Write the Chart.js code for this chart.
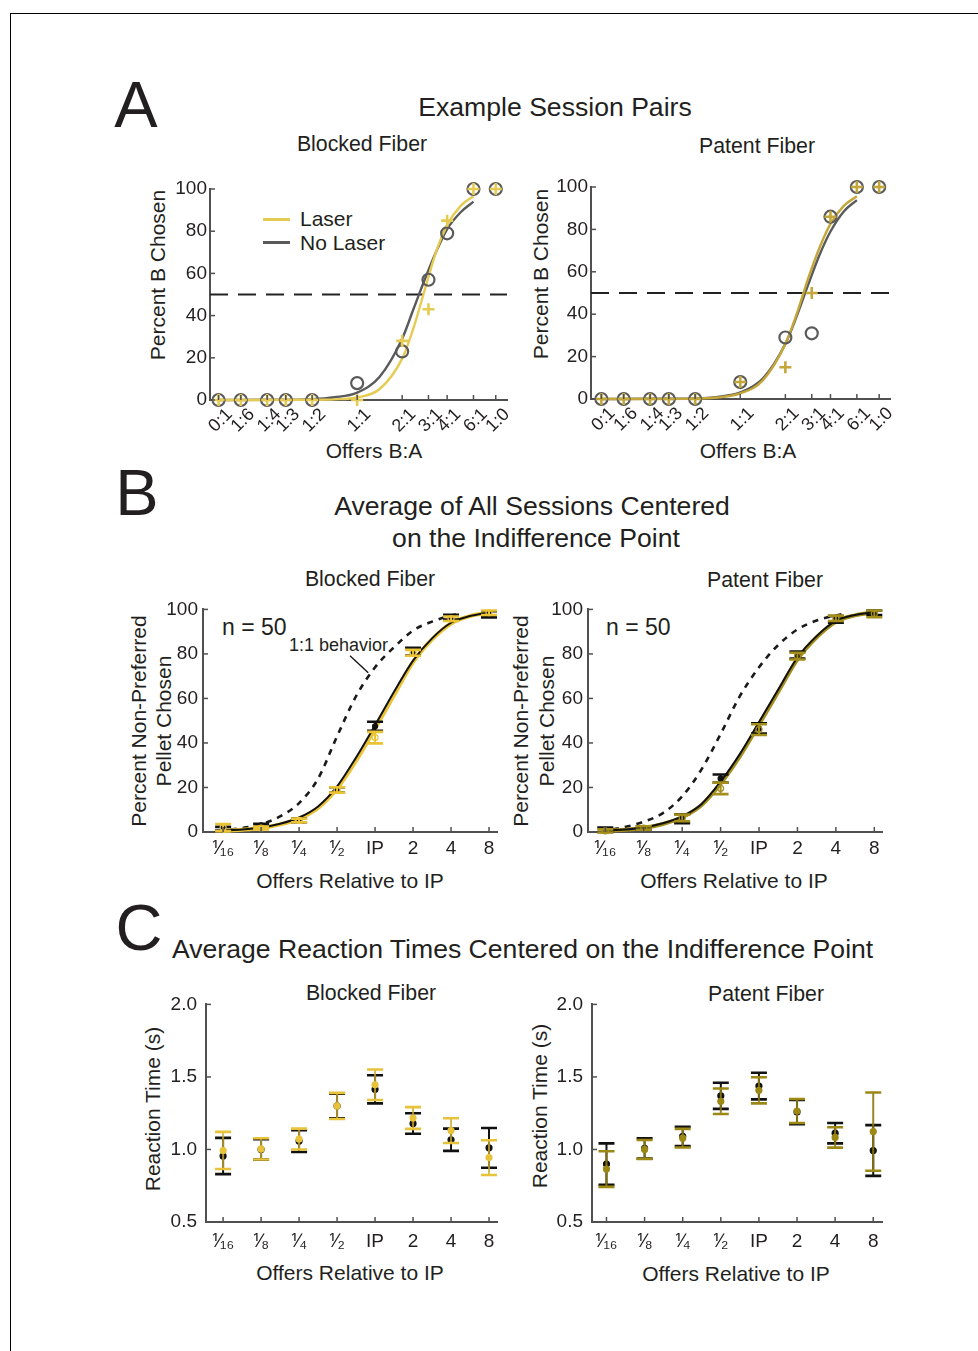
<!DOCTYPE html>
<html><head><meta charset="utf-8">
<script src="https://cdn.jsdelivr.net/npm/chart.js@4.4.1/dist/chart.umd.min.js"></script>
<style>
body{margin:0;background:#fff;width:978px;height:1351px;position:relative;overflow:hidden;font-family:'Liberation Sans',Arial,Helvetica,sans-serif;color:#231f20}
.t{position:absolute;white-space:nowrap;transform:translate(-50%,-50%);line-height:1}
.l{position:absolute;white-space:nowrap;transform:translate(0,-50%);line-height:1}
.v{position:absolute;white-space:nowrap;transform:translate(-50%,-50%) rotate(-90deg);line-height:1}
canvas{position:absolute}
#frame{position:absolute;left:10px;top:13px;width:980px;height:1350px;border-top:1.5px solid #000;border-left:1.5px solid #000}
.leg{position:absolute;height:3px}
</style></head>
<body>
<div id="frame"></div>
<div class="t" style="left:136px;top:104px;font-size:65px">A</div>
<div class="t" style="left:137px;top:492px;font-size:65px">B</div>
<div class="t" style="left:139px;top:927px;font-size:65px">C</div>

<div class="t" style="left:555px;top:107px;font-size:26.6px">Example Session Pairs</div>
<div class="t" style="left:362px;top:145px;font-size:21.3px">Blocked Fiber</div>
<div class="t" style="left:757px;top:147px;font-size:21.3px">Patent Fiber</div>
<div class="v" style="left:157px;top:275px;font-size:21px">Percent B Chosen</div>
<div class="v" style="left:540px;top:274px;font-size:21px">Percent B Chosen</div>
<div class="t" style="left:374px;top:450px;font-size:21px">Offers B:A</div>
<div class="t" style="left:748px;top:450px;font-size:21px">Offers B:A</div>
<div class="leg" style="left:263px;top:218px;width:27px;background:#E6CB52"></div>
<div class="leg" style="left:263px;top:241px;width:27px;background:#5a5a5a"></div>
<div class="l" style="left:300px;top:218px;font-size:21px">Laser</div>
<div class="l" style="left:300px;top:242px;font-size:21px">No Laser</div>

<div class="t" style="left:532px;top:506px;font-size:26.6px">Average of All Sessions Centered</div>
<div class="t" style="left:536px;top:538px;font-size:26.6px">on the Indifference Point</div>
<div class="t" style="left:370px;top:580px;font-size:21.3px">Blocked Fiber</div>
<div class="t" style="left:765px;top:581px;font-size:21.3px">Patent Fiber</div>
<div class="v" style="left:138px;top:721px;font-size:21px">Percent Non-Preferred</div>
<div class="v" style="left:163px;top:721px;font-size:21px">Pellet Chosen</div>
<div class="v" style="left:520px;top:721px;font-size:21px">Percent Non-Preferred</div>
<div class="v" style="left:546px;top:721px;font-size:21px">Pellet Chosen</div>
<div class="l" style="left:222px;top:627px;font-size:23px">n = 50</div>
<div class="l" style="left:606px;top:627px;font-size:23px">n = 50</div>
<div class="l" style="left:289px;top:645px;font-size:18px">1:1 behavior</div>
<div class="t" style="left:350px;top:880px;font-size:21px">Offers Relative to IP</div>
<div class="t" style="left:734px;top:880px;font-size:21px">Offers Relative to IP</div>

<div class="l" style="left:172px;top:949px;font-size:26.6px">Average Reaction Times Centered on the Indifference Point</div>
<div class="t" style="left:371px;top:994px;font-size:21.3px">Blocked Fiber</div>
<div class="t" style="left:766px;top:995px;font-size:21.3px">Patent Fiber</div>
<div class="v" style="left:152px;top:1109px;font-size:21px">Reaction Time (s)</div>
<div class="v" style="left:539px;top:1106px;font-size:21px">Reaction Time (s)</div>
<div class="t" style="left:350px;top:1272px;font-size:21px">Offers Relative to IP</div>
<div class="t" style="left:736px;top:1273px;font-size:21px">Offers Relative to IP</div>

<script>
// ---------------- DATA ----------------
// Panel A: example sessions, offers B:A on log2 axis
const offerLabelsA = ['0:1','1:6','1:4','1:3','1:2','1:1','2:1','3:1','4:1','6:1','1:0'];
const offerPosA    = [-3.08,-2.585,-2,-1.585,-1,0,1,1.585,2,2.585,3.08];
const blockedNoLaserA = [0,0,0,0,0,8,23,57,79,100,100];
const blockedLaserA   = [0,0,0,0,0,0,28,43,85,100,100];
const patentNoLaserA  = [0,0,0,0,0,8,29,31,86,100,100];
const patentLaserA    = [0,0,0,0,0,8,15,50,86,100,100];
const fitPosA = [-3.08,-2,-1,-0.5,0,0.5,1,1.25,1.5,1.75,2,2.3,2.585];
const blockedNoLaserFitA = [0,0.1,0.4,1.3,3.5,11,29,43,57,70,81,89,94];
const blockedLaserFitA   = [0,0,0.1,0.3,1.2,5.2,19.6,34,52,70,83,92,96.6];
const patentNoLaserFitA  = [0,0.1,0.3,1,3.1,9.6,26,39,53.6,67.6,79,88.6,93.8];
const patentLaserFitA    = [0,0,0.2,0.7,2.6,8.8,26,40,56.5,71,82.6,91.2,95.6];
const indifferenceA = [50,50];
const yTicksPct = [0,20,40,60,80,100];

// Panel B: averages centered on indifference point
const relLabels = ['\u215F\u2081\u2086','\u215F\u2088','\u215F\u2084','\u215F\u2082','IP','2','4','8'];
const relPos = [-4,-3,-2,-1,0,1,2,3];
const blockedNoLaserB    = [1.5,3,5.2,18.9,47.5,81,96.5,97.8];
const blockedNoLaserBErr = [0.8,0.7,0.8,1.2,2,1.7,1.1,1.4];
const blockedLaserB      = [2,1.8,5.2,18.9,42.4,80.5,95.8,98.5];
const blockedLaserBErr   = [1.6,0.6,0.8,1.2,2.6,1.3,1,1];
const patentNoLaserB     = [1,1.8,6,24,46.5,79.5,95.5,98.5];
const patentNoLaserBErr  = [1,0.8,2,1.8,2.3,1.6,1.5,1];
const patentLaserB       = [0.5,1.8,6.3,19.6,46,79,96,98];
const patentLaserBErr    = [0.7,0.8,1.5,2.6,2.4,1.5,1.2,1.5];
const fitPosB = [-4,-3.5,-3,-2.5,-2,-1.5,-1,-0.5,0,0.5,1,1.5,2,2.5,3];
const blockedNoLaserFitB = [0.6,1.1,2,3.7,6.5,11.5,20.5,33.5,48,63,77,87,94,97,98.5];
const blockedLaserFitB   = [0.5,1,1.8,3.4,6,10.8,19.5,32,46.5,61.5,76.3,86.5,93.7,97,98.4];
const patentNoLaserFitB  = [0.6,1.1,2,3.9,7,12.5,22.6,35,49.4,64,78.4,88,94.8,97.5,98.7];
const patentLaserFitB    = [0.5,1,1.8,3.6,6.6,12,21.8,34,48.3,63,77.6,87.5,94.5,97.3,98.6];
const fitPos11 = [-3.8,-3.5,-3,-2.5,-2,-1.5,-1,-0.5,0,0.5,1,1.5,2,2.24];
const blockedOneToOne = [1.2,1.8,3.5,7,13,24,43,61,74,83,90.5,94.5,97.3,98];
const patentOneToOne  = [1.2,2.2,4.6,8.5,16,28,44,61,74,84,91,95,97.3,98.2];

// Panel C: reaction times
const yTicksRT = [0.5,1.0,1.5,2.0];
const blockedNoLaserRT    = [0.955,1.0,1.058,1.30,1.415,1.179,1.067,1.011];
const blockedNoLaserRTErr = [0.125,0.07,0.075,0.085,0.097,0.071,0.077,0.137];
const blockedLaserRT      = [0.993,1.004,1.072,1.30,1.446,1.217,1.13,0.944];
const blockedLaserRTErr   = [0.128,0.073,0.072,0.09,0.105,0.075,0.085,0.12];
const patentNoLaserRT     = [0.899,1.007,1.09,1.37,1.437,1.258,1.112,0.993];
const patentNoLaserRTErr  = [0.143,0.07,0.067,0.09,0.092,0.084,0.07,0.175];
const patentLaserRT       = [0.865,1.0,1.078,1.332,1.408,1.265,1.083,1.123];
const patentLaserRTErr    = [0.123,0.065,0.064,0.088,0.09,0.083,0.07,0.27];

// ---------------- STYLE ----------------
const FONT = "'Liberation Sans', Arial, Helvetica, sans-serif";
const TXT = '#231f20', AXIS = '#505050';
const WY = 70, HX = 70, PT = 15, PR = 20;

const pts = (xs, ys) => xs.map((x, i) => ({x, y: ys[i]}));

const inTicks = {
  id: 'inTicks',
  afterDraw(chart) {
    const {ctx, chartArea: a} = chart, sx = chart.scales.x, sy = chart.scales.y;
    ctx.save(); ctx.strokeStyle = AXIS; ctx.lineWidth = 1.5;
    sx.ticks.forEach(t => { const p = sx.getPixelForValue(t.value);
      ctx.beginPath(); ctx.moveTo(p, a.bottom); ctx.lineTo(p, a.bottom - 5); ctx.stroke(); });
    sy.ticks.forEach(t => { const p = sy.getPixelForValue(t.value);
      ctx.beginPath(); ctx.moveTo(a.left, p); ctx.lineTo(a.left + 5, p); ctx.stroke(); });
    ctx.restore();
  }
};
const errBars = {
  id: 'errBars',
  beforeDatasetDraw(chart, args) {
    const ds = chart.data.datasets[args.index];
    if (!ds.errors) return;
    const {ctx} = chart, sx = chart.scales.x, sy = chart.scales.y, cap = 8;
    ctx.save();
    ds.data.forEach((p, i) => {
      const e = ds.errors[i], x = sx.getPixelForValue(p.x);
      const y1 = sy.getPixelForValue(p.y - e), y2 = sy.getPixelForValue(p.y + e);
      ctx.strokeStyle = ds.stemColor; ctx.lineWidth = 2;
      ctx.beginPath(); ctx.moveTo(x, y1); ctx.lineTo(x, y2); ctx.stroke();
      ctx.strokeStyle = ds.capColor; ctx.lineWidth = 2.6;
      ctx.beginPath(); ctx.moveTo(x - cap, y1); ctx.lineTo(x + cap, y1);
      ctx.moveTo(x - cap, y2); ctx.lineTo(x + cap, y2); ctx.stroke();
    });
    ctx.restore();
  }
};
const pointer = {
  id: 'pointer',
  afterDatasetsDraw(chart, args, opts) {
    if (!opts || !opts.from) return;
    const {ctx} = chart, sx = chart.scales.x, sy = chart.scales.y;
    ctx.save(); ctx.strokeStyle = '#111'; ctx.lineWidth = 1.3;
    ctx.beginPath();
    ctx.moveTo(sx.getPixelForValue(opts.from[0]), sy.getPixelForValue(opts.from[1]));
    ctx.lineTo(sx.getPixelForValue(opts.to[0]), sy.getPixelForValue(opts.to[1]));
    ctx.stroke(); ctx.restore();
  }
};

function makeChart(plot, o) {
  const c = document.createElement('canvas');
  const w = WY + (plot.r - plot.l) + PR, h = PT + (plot.b - plot.t) + HX;
  c.width = w; c.height = h;
  c.style.left = (plot.l - WY) + 'px'; c.style.top = (plot.t - PT) + 'px';
  c.style.width = w + 'px'; c.style.height = h + 'px';
  document.body.appendChild(c);
  new Chart(c, {
    type: 'scatter',
    data: {datasets: o.datasets},
    plugins: [errBars, inTicks, pointer],
    options: {
      responsive: false, animation: false, events: [],
      layout: {autoPadding: false, padding: {left: 0, top: PT, right: PR, bottom: 0}},
      plugins: {legend: {display: false}, tooltip: {enabled: false}, pointer: o.pointer || {}},
      scales: {
        x: {type: 'linear', min: o.xr[0], max: o.xr[1],
          afterBuildTicks: s => { s.ticks = o.xt.map(v => ({value: v})); },
          afterFit: s => { s.height = HX; },
          grid: {display: false, drawTicks: false},
          border: {display: true, color: AXIS, width: 2},
          ticks: {autoSkip: false, maxRotation: o.rot, minRotation: o.rot, padding: o.xpad,
            labelOffset: o.xoff || 0, color: TXT, font: {family: FONT, size: o.xfs},
            callback: (v, i) => o.xl[i]}},
        y: {type: 'linear', min: o.yr[0], max: o.yr[1],
          afterBuildTicks: s => { s.ticks = o.yt.map(v => ({value: v})); },
          afterFit: s => { s.width = WY; },
          grid: {display: false, drawTicks: false},
          border: {display: true, color: AXIS, width: 2},
          ticks: {padding: o.ypad, color: TXT, font: {family: FONT, size: 19},
            callback: v => o.yfmt ? v.toFixed(1) : String(v)}}
      }
    }
  });
}

const curve = (xs, ys, color, width, order, dash) => ({
  data: pts(xs, ys), showLine: true, borderColor: color, borderWidth: width,
  borderDash: dash || [], pointRadius: 0, cubicInterpolationMode: 'monotone',
  order, clip: false
});
const markers = (xs, ys, style, color, order) => ({
  data: pts(xs, ys), showLine: false, pointStyle: style, pointRadius: 6,
  pointBorderColor: color, pointBackgroundColor: 'rgba(0,0,0,0)',
  pointBorderWidth: style === 'cross' ? 2.6 : 2.2, order, clip: false
});
const errSet = (xs, ys, errs, color, stem, order, fill, r) => ({
  data: pts(xs, ys), errors: errs, showLine: false, stemColor: stem, capColor: color,
  pointStyle: 'circle', pointRadius: r, pointBorderWidth: 1.2,
  pointBorderColor: color, pointBackgroundColor: fill, order, clip: false
});

// ---- Panel A ----
const GRAYA = '#5a5a5a', YELA = '#E6CB52', GOLDA = '#C4A73A';
function panelA(plot, xr, noL, las, fitN, fitL, lasColor) {
  makeChart(plot, {
    xr, yr: [0, 100], xt: offerPosA, xl: offerLabelsA, yt: yTicksPct,
    rot: 45, xpad: 4, xoff: 11, xfs: 18, ypad: 3,
    datasets: [
      curve(xr, indifferenceA, '#222', 2, 20, [18, 10]),
      curve(fitPosA, fitN, GRAYA, 2.4, 11),
      curve(fitPosA, fitL, lasColor, 2.4, 10),
      markers(offerPosA, noL, 'circle', GRAYA, 3),
      markers(offerPosA, las, 'cross', lasColor, 2)
    ]
  });
}
panelA({l: 210, t: 189, r: 507, b: 400}, [-3.27, 3.33], blockedNoLaserA, blockedLaserA,
       blockedNoLaserFitA, blockedLaserFitA, YELA);
panelA({l: 591, t: 187, r: 890, b: 399}, [-3.31, 3.32], patentNoLaserA, patentLaserA,
       patentNoLaserFitA, patentLaserFitA, GOLDA);

// ---- Panel B ----
const BLK = '#111111', YELB = '#EAC435', OLIVE = '#A48E1C';
function panelB(plot, xr, noL, noLE, las, lasE, fitN, fitL, one, lasColor, pointerOpt) {
  makeChart(plot, {
    xr, yr: [0, 100], xt: relPos, xl: relLabels, yt: yTicksPct,
    rot: 0, xpad: 5, xfs: 19, ypad: 5, pointer: pointerOpt,
    datasets: [
      curve(fitPos11, one, '#1a1a1a', 2.6, 12, [6, 6]),
      curve(fitPosB, fitL, lasColor, 4, 11),
      curve(fitPosB, fitN, BLK, 2, 10),
      errSet(relPos, noL, noLE, BLK, BLK, 5, BLK, 2.5),
      errSet(relPos, las, lasE, lasColor, lasColor, 4, 'rgba(0,0,0,0)', 3)
    ]
  });
}
panelB({l: 203, t: 608, r: 497, b: 832}, [-4.53, 3.21], blockedNoLaserB, blockedNoLaserBErr,
       blockedLaserB, blockedLaserBErr, blockedNoLaserFitB, blockedLaserFitB, blockedOneToOne, YELB,
       {from: [-0.66, 79.2], to: [-0.18, 71.5]});
panelB({l: 588, t: 608, r: 882, b: 832}, [-4.45, 3.2], patentNoLaserB, patentNoLaserBErr,
       patentLaserB, patentLaserBErr, patentNoLaserFitB, patentLaserFitB, patentOneToOne, OLIVE, null);

// ---- Panel C ----
const YELC = '#E8C23A', OLIVEC = '#9C8814';
function panelC(plot, xr, noL, noLE, las, lasE, lasColor, stem) {
  makeChart(plot, {
    xr, yr: [0.5, 2.0], xt: relPos, xl: relLabels, yt: yTicksRT, yfmt: true,
    rot: 0, xpad: 8, xfs: 19, ypad: 9,
    datasets: [
      errSet(relPos, noL, noLE, BLK, BLK, 5, BLK, 3),
      errSet(relPos, las, lasE, lasColor, stem, 4, lasColor, 3)
    ]
  });
}
panelC({l: 206, t: 999, r: 497, b: 1222}, [-4.45, 3.21], blockedNoLaserRT, blockedNoLaserRTErr,
       blockedLaserRT, blockedLaserRTErr, YELC, 'rgba(200,170,50,0.8)');
panelC({l: 592, t: 999, r: 882, b: 1222}, [-4.38, 3.23], patentNoLaserRT, patentNoLaserRTErr,
       patentLaserRT, patentLaserRTErr, OLIVEC, 'rgba(140,122,20,0.9)');
</script>
</body></html>
